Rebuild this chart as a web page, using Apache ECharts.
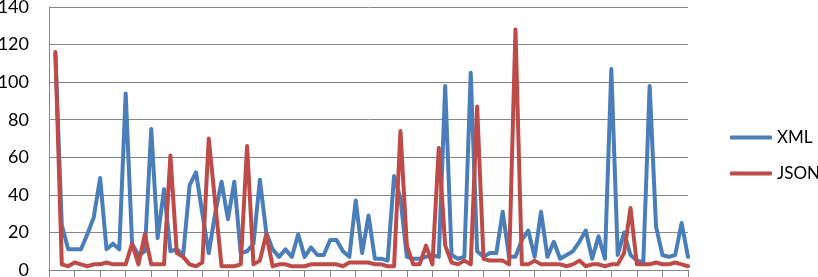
<!DOCTYPE html>
<html>
<head>
<meta charset="utf-8">
<script src="https://cdn.jsdelivr.net/npm/echarts@6/dist/echarts.min.js"></script>
<style>
html,body{margin:0;padding:0;background:#fff;}
#c{width:818px;height:277px;}
</style>
</head>
<body>
<div id="c"></div>
<script>
// Sample numbers (1..100) are positions on the x axis
const sampleCount = 100;
const xmlValues = [
  115, 24, 11, 11, 11, 19, 28, 49, 11, 14,
  11, 94, 14, 8, 10, 75, 17, 43, 10, 11,
  8, 45, 52, 30, 9, 30, 47, 27, 47, 9,
  10, 14, 48, 20, 11, 7, 11, 7, 19, 7,
  12, 8, 8, 16, 16, 10, 7, 37, 9, 29,
  6, 6, 5, 50, 38, 7, 6, 6, 7, 8,
  7, 98, 8, 6, 7, 105, 10, 7, 9, 9,
  31, 7, 7, 16, 21, 7, 31, 7, 15, 6,
  8, 10, 15, 21, 6, 18, 6, 107, 8, 20,
  8, 5, 4, 98, 23, 8, 7, 8, 25, 7
];
const jsonValues = [
  116, 3, 2, 4, 3, 2, 3, 3, 4, 3,
  3, 3, 14, 3, 19, 3, 3, 3, 61, 9,
  7, 3, 2, 4, 70, 36, 2, 2, 2, 3,
  66, 3, 5, 19, 2, 3, 3, 2, 2, 2,
  3, 3, 3, 3, 3, 2, 4, 4, 4, 4,
  3, 3, 2, 2, 74, 13, 3, 3, 13, 3,
  65, 13, 4, 3, 5, 3, 87, 6, 5, 5,
  5, 3, 128, 3, 3, 5, 3, 3, 3, 3,
  2, 3, 5, 2, 3, 3, 2, 3, 3, 9,
  33, 3, 3, 3, 4, 3, 3, 4, 3, 2
];
const seriesNames = ['XML', 'JSON'];
const seriesColors = ['#4a7ebb', '#be4b48'];
const yTicks = [0, 20, 40, 60, 80, 100, 120, 140];

const toPairs = vals => vals.map((v, i) => [i + 1, v]);

const chart = echarts.init(document.getElementById('c'), null, {renderer: 'canvas'});
const font = 'Lato, "Open Sans", sans-serif';
chart.setOption({
  animation: false,
  backgroundColor: '#ffffff',
  grid: {left: 49, right: 130, top: 7, bottom: 7, containLabel: false, outerBoundsMode: 'none'},
  legend: {
    orient: 'vertical',
    left: 730,
    top: 129,
    padding: 0,
    itemWidth: 42,
    itemHeight: 4,
    itemGap: 19,
    icon: 'roundRect',
    textStyle: {fontFamily: font, fontSize: 17, color: '#000'},
    data: seriesNames.map(n => ({name: n}))
  },
  xAxis: {
    type: 'value',
    min: 0,
    max: sampleCount,
    interval: 4,
    axisLine: {show: true, lineStyle: {color: '#868686', width: 1}},
    axisTick: {show: true, inside: false, length: 7, lineStyle: {color: '#868686', width: 1}},
    axisLabel: {show: false},
    splitLine: {show: false}
  },
  yAxis: {
    type: 'value',
    min: yTicks[0],
    max: yTicks[yTicks.length - 1],
    interval: yTicks[1] - yTicks[0],
    axisLine: {show: true, lineStyle: {color: '#868686', width: 1}},
    axisTick: {show: false},
    axisLabel: {fontFamily: font, fontSize: 18, color: '#000', margin: 20},
    splitLine: {show: true, lineStyle: {color: '#868686', width: 1}}
  },
  series: [
    {
      name: seriesNames[0], type: 'line', data: toPairs(xmlValues),
      symbol: 'none', color: seriesColors[0],
      lineStyle: {width: 4, color: seriesColors[0], cap: 'round', join: 'round'},
      z: 2
    },
    {
      name: seriesNames[1], type: 'line', data: toPairs(jsonValues),
      symbol: 'none', color: seriesColors[1],
      lineStyle: {width: 4, color: seriesColors[1], cap: 'round', join: 'round'},
      z: 3
    }
  ]
});
</script>
</body>
</html>
